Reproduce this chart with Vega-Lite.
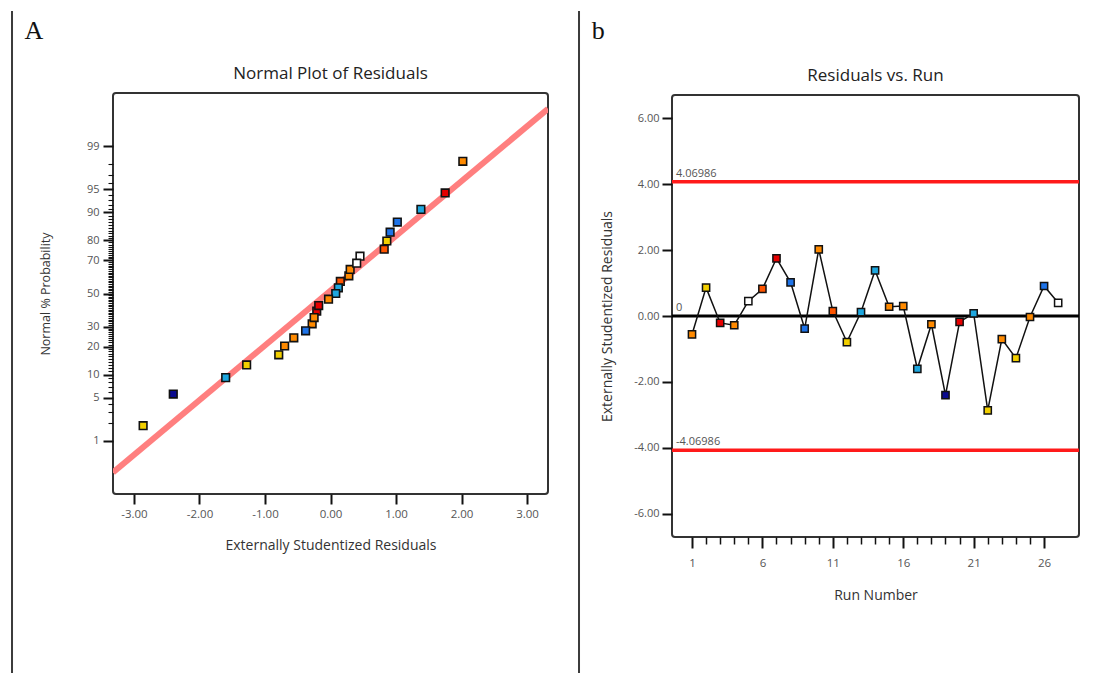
{
  "$schema": "https://vega.github.io/schema/vega-lite/v6.json",
  "background": "white",
  "padding": {"left": 11, "top": 11, "right": 5, "bottom": 0},
  "config": {
    "font": "Open Sans",
    "view": {"stroke": "#333333", "strokeWidth": 2, "cornerRadius": 3},
    "axis": {"domain": false, "grid": false, "labelColor": "#555555", "labelFontSize": 11.5, "tickColor": "#111111", "titleColor": "#333333", "titleFontWeight": "normal", "titleFontSize": 14, "labelOverlap": false},
    "title": {"fontWeight": "normal", "fontSize": 17, "color": "#222222"}
  },
  "datasets": {
    "runs": [
      {"run": 1, "residual": -0.56, "normal_score": -0.70, "response_band": 6},
      {"run": 2, "residual": 0.86, "normal_score": 0.83, "response_band": 5},
      {"run": 3, "residual": -0.21, "normal_score": -0.28, "response_band": 8},
      {"run": 4, "residual": -0.28, "normal_score": -0.48, "response_band": 6},
      {"run": 5, "residual": 0.45, "normal_score": 0.59, "response_band": 4},
      {"run": 6, "residual": 0.82, "normal_score": 0.70, "response_band": 7},
      {"run": 7, "residual": 1.75, "normal_score": 1.59, "response_band": 8},
      {"run": 8, "residual": 1.02, "normal_score": 1.13, "response_band": 2},
      {"run": 9, "residual": -0.38, "normal_score": -0.59, "response_band": 2},
      {"run": 10, "residual": 2.02, "normal_score": 2.09, "response_band": 6},
      {"run": 11, "residual": 0.15, "normal_score": 0.19, "response_band": 7},
      {"run": 12, "residual": -0.79, "normal_score": -0.97, "response_band": 5},
      {"run": 13, "residual": 0.12, "normal_score": 0.09, "response_band": 3},
      {"run": 14, "residual": 1.38, "normal_score": 1.33, "response_band": 3},
      {"run": 15, "residual": 0.28, "normal_score": 0.28, "response_band": 6},
      {"run": 16, "residual": 0.30, "normal_score": 0.38, "response_band": 6},
      {"run": 17, "residual": -1.60, "normal_score": -1.33, "response_band": 3},
      {"run": 18, "residual": -0.25, "normal_score": -0.38, "response_band": 6},
      {"run": 19, "residual": -2.40, "normal_score": -1.59, "response_band": 1},
      {"run": 20, "residual": -0.18, "normal_score": -0.19, "response_band": 8},
      {"run": 21, "residual": 0.08, "normal_score": 0.00, "response_band": 3},
      {"run": 22, "residual": -2.86, "normal_score": -2.09, "response_band": 5},
      {"run": 23, "residual": -0.70, "normal_score": -0.83, "response_band": 6},
      {"run": 24, "residual": -1.28, "normal_score": -1.13, "response_band": 5},
      {"run": 25, "residual": -0.03, "normal_score": -0.09, "response_band": 6},
      {"run": 26, "residual": 0.91, "normal_score": 0.97, "response_band": 2},
      {"run": 27, "residual": 0.40, "normal_score": 0.48, "response_band": 4}
    ],
    "refs": [
      {"residual": 4.06986, "label": "4.06986", "kind": "limit"},
      {"residual": -4.06986, "label": "-4.06986", "kind": "limit"},
      {"residual": 0, "label": "0", "kind": "zero"}
    ],
    "fit": [
      {"residual": -3.32, "normal_score": -2.83},
      {"residual": 3.32, "normal_score": 2.92}
    ]
  },
  "spacing": 29,
  "hconcat": [
    {
      "spacing": 10,
      "hconcat": [
        {
          "data": {"values": []},
          "mark": {"type": "point"},
          "encoding": {},
          "width": 0.01,
          "height": 660,
          "view": {"stroke": "#3c3c3c", "strokeWidth": 2, "fill": null, "cornerRadius": 0}
        },
        {
          "title": {"text": "A", "anchor": "start", "frame": "bounds", "font": "Liberation Serif", "fontSize": 26, "fontWeight": "normal", "color": "#111111", "dx": -14, "dy": 32, "offset": 0},
          "spacing": 0,
          "vconcat": [
            {
              "data": {"values": []},
              "mark": {"type": "point"},
              "encoding": {},
              "width": 0.01,
              "height": 52,
              "view": {"stroke": null, "fill": null}
            },
            {
              "width": 435,
              "height": 401,
              "title": {"text": "Normal Plot of Residuals", "offset": 10},
              "encoding": {
                "x": {
                  "field": "residual", "type": "quantitative",
                  "scale": {"domain": [-3.32, 3.32], "nice": false, "zero": false},
                  "axis": {"title": "Externally Studentized Residuals", "values": [-3, -2, -1, 0, 1, 2, 3], "tickCount": 7, "labelExpr": "replace(format(datum.value, '.2f'), '\u2212', '-')", "tickSize": 10, "tickWidth": 2, "labelPadding": 4, "titlePadding": 19, "labelOverlap": false}
                },
                "y": {
                  "field": "normal_score", "type": "quantitative",
                  "scale": {"domain": [-3.17, 3.17], "nice": false, "zero": false},
                  "axis": {
                    "title": "Normal % Probability",
                    "titleFontSize": 12.5,
                    "labelFontSize": 11,
                    "tickCount": 100,
                    "values": [-2.3263, -2.0537, -1.8808, -1.7507, -1.6449, -1.5548, -1.4758, -1.4051, -1.3408, -1.2816, -1.2265, -1.175, -1.1264, -1.0803, -1.0364, -0.9945, -0.9542, -0.9154, -0.8779, -0.8416, -0.8064, -0.7722, -0.7388, -0.7063, -0.6745, -0.6433, -0.6128, -0.5828, -0.5534, -0.5244, -0.4959, -0.4677, -0.4399, -0.4125, -0.3853, -0.3585, -0.3319, -0.3055, -0.2793, -0.2533, -0.2275, -0.2019, -0.1764, -0.151, -0.1257, -0.1004, -0.0753, -0.0502, -0.0251, 0, 0.0251, 0.0502, 0.0753, 0.1004, 0.1257, 0.151, 0.1764, 0.2019, 0.2275, 0.2533, 0.2793, 0.3055, 0.3319, 0.3585, 0.3853, 0.4125, 0.4399, 0.4677, 0.4959, 0.5244, 0.5534, 0.5828, 0.6128, 0.6433, 0.6745, 0.7063, 0.7388, 0.7722, 0.8064, 0.8416, 0.8779, 0.9154, 0.9542, 0.9945, 1.0364, 1.0803, 1.1264, 1.175, 1.2265, 1.2816, 1.3408, 1.4051, 1.4758, 1.5548, 1.6449, 1.7507, 1.8808, 2.0537, 2.3263],
                    "labelExpr": "indexof([1,5,10,20,30,50,70,80,90,95,99], round(cumulativeNormal(datum.value)*100)) >= 0 ? '' + round(cumulativeNormal(datum.value)*100) : ''",
                    "tickSize": {"condition": {"test": "indexof([1,5,10,20,30,50,70,80,90,95,99], round(cumulativeNormal(datum.value)*100)) >= 0", "value": 10}, "value": 5},
                    "tickWidth": {"condition": {"test": "indexof([1,5,10,20,30,50,70,80,90,95,99], round(cumulativeNormal(datum.value)*100)) >= 0", "value": 2}, "value": 1.1},
                    "labelPadding": 4,
                    "titlePadding": 34,
                    "labelOverlap": false
                  }
                }
              },
              "layer": [
                {
                  "data": {"name": "fit"},
                  "mark": {"type": "line", "color": "#ff7f7f", "strokeWidth": 6, "clip": true}
                },
                {
                  "data": {"name": "runs"},
                  "mark": {"type": "square", "size": 58, "stroke": "#111111", "strokeWidth": 1.6, "opacity": 1},
                  "encoding": {
                    "fill": {"field": "response_band", "type": "ordinal", "scale": {"domain": [1, 2, 3, 4, 5, 6, 7, 8], "range": ["#0b0b8f", "#1e73e8", "#1ea7df", "#ffffff", "#f2cf00", "#ff8a00", "#ff5500", "#e60000"]}, "legend": null}
                  }
                }
              ]
            }
          ]
        }
      ]
    },
    {
      "spacing": 10,
      "hconcat": [
        {
          "data": {"values": []},
          "mark": {"type": "point"},
          "encoding": {},
          "width": 0.01,
          "height": 660,
          "view": {"stroke": "#3c3c3c", "strokeWidth": 2, "fill": null, "cornerRadius": 0}
        },
        {
          "title": {"text": "b", "anchor": "start", "frame": "bounds", "font": "Liberation Serif", "fontSize": 26, "fontWeight": "normal", "color": "#111111", "dx": -8, "dy": 32, "offset": 0},
          "spacing": 0,
          "vconcat": [
            {
              "data": {"values": []},
              "mark": {"type": "point"},
              "encoding": {},
              "width": 0.01,
              "height": 54,
              "view": {"stroke": null, "fill": null}
            },
            {
              "width": 407,
              "height": 442,
              "title": {"text": "Residuals vs. Run", "offset": 10},
              "encoding": {
                "y": {
                  "field": "residual", "type": "quantitative",
                  "scale": {"domain": [-6.7, 6.7], "nice": false, "zero": false},
                  "axis": {"title": "Externally Studentized Residuals", "labelFontSize": 11, "values": [-6, -4, -2, 0, 2, 4, 6], "tickCount": 7, "labelExpr": "replace(format(datum.value, '.2f'), '\u2212', '-')", "tickSize": 10, "tickWidth": 2, "labelPadding": 3, "titlePadding": 19, "labelOverlap": false}
                }
              },
              "layer": [
                {
                  "data": {"name": "refs"},
                  "transform": [{"filter": "datum.kind == 'limit'"}],
                  "mark": {"type": "rule", "color": "#ff1a1a", "strokeWidth": 3.5}
                },
                {
                  "data": {"name": "refs"},
                  "transform": [{"filter": "datum.kind == 'zero'"}],
                  "mark": {"type": "rule", "color": "#000000", "strokeWidth": 3}
                },
                {
                  "data": {"name": "runs"},
                  "mark": {"type": "line", "color": "#111111", "strokeWidth": 1.5},
                  "encoding": {
                    "x": {
                      "field": "run", "type": "quantitative",
                      "scale": {"domain": [-0.42, 28.48], "nice": false, "zero": false},
                      "axis": {"title": "Run Number", "values": [1, 2, 3, 4, 5, 6, 7, 8, 9, 10, 11, 12, 13, 14, 15, 16, 17, 18, 19, 20, 21, 22, 23, 24, 25, 26], "tickCount": 30, "format": "d", "labelExpr": "(datum.value - 1) % 5 == 0 ? datum.label : ''", "labelOverlap": false, "tickSize": {"condition": {"test": "(datum.value - 1) % 5 == 0", "value": 11}, "value": 7}, "tickWidth": {"condition": {"test": "(datum.value - 1) % 5 == 0", "value": 2}, "value": 1.5}, "labelPadding": 9, "titlePadding": 20}
                    }
                  }
                },
                {
                  "data": {"name": "runs"},
                  "mark": {"type": "square", "size": 52, "stroke": "#111111", "strokeWidth": 1.5, "opacity": 1},
                  "encoding": {
                    "x": {
                      "field": "run", "type": "quantitative",
                      "scale": {"domain": [-0.42, 28.48], "nice": false, "zero": false},
                      "axis": {"title": "Run Number", "values": [1, 2, 3, 4, 5, 6, 7, 8, 9, 10, 11, 12, 13, 14, 15, 16, 17, 18, 19, 20, 21, 22, 23, 24, 25, 26], "tickCount": 30, "format": "d", "labelExpr": "(datum.value - 1) % 5 == 0 ? datum.label : ''", "labelOverlap": false, "tickSize": {"condition": {"test": "(datum.value - 1) % 5 == 0", "value": 11}, "value": 7}, "tickWidth": {"condition": {"test": "(datum.value - 1) % 5 == 0", "value": 2}, "value": 1.5}, "labelPadding": 9, "titlePadding": 20}
                    },
                    "fill": {"field": "response_band", "type": "ordinal", "scale": {"domain": [1, 2, 3, 4, 5, 6, 7, 8], "range": ["#0b0b8f", "#1e73e8", "#1ea7df", "#ffffff", "#f2cf00", "#ff8a00", "#ff5500", "#e60000"]}, "legend": null}
                  }
                },
                {
                  "data": {"name": "refs"},
                  "mark": {"type": "text", "align": "left", "baseline": "bottom", "dx": 4, "dy": -3, "fontSize": 11, "color": "#555555"},
                  "encoding": {
                    "x": {"datum": -0.42, "type": "quantitative"},
                    "text": {"field": "label", "type": "nominal"}
                  }
                }
              ]
            }
          ]
        }
      ]
    }
  ]
}
